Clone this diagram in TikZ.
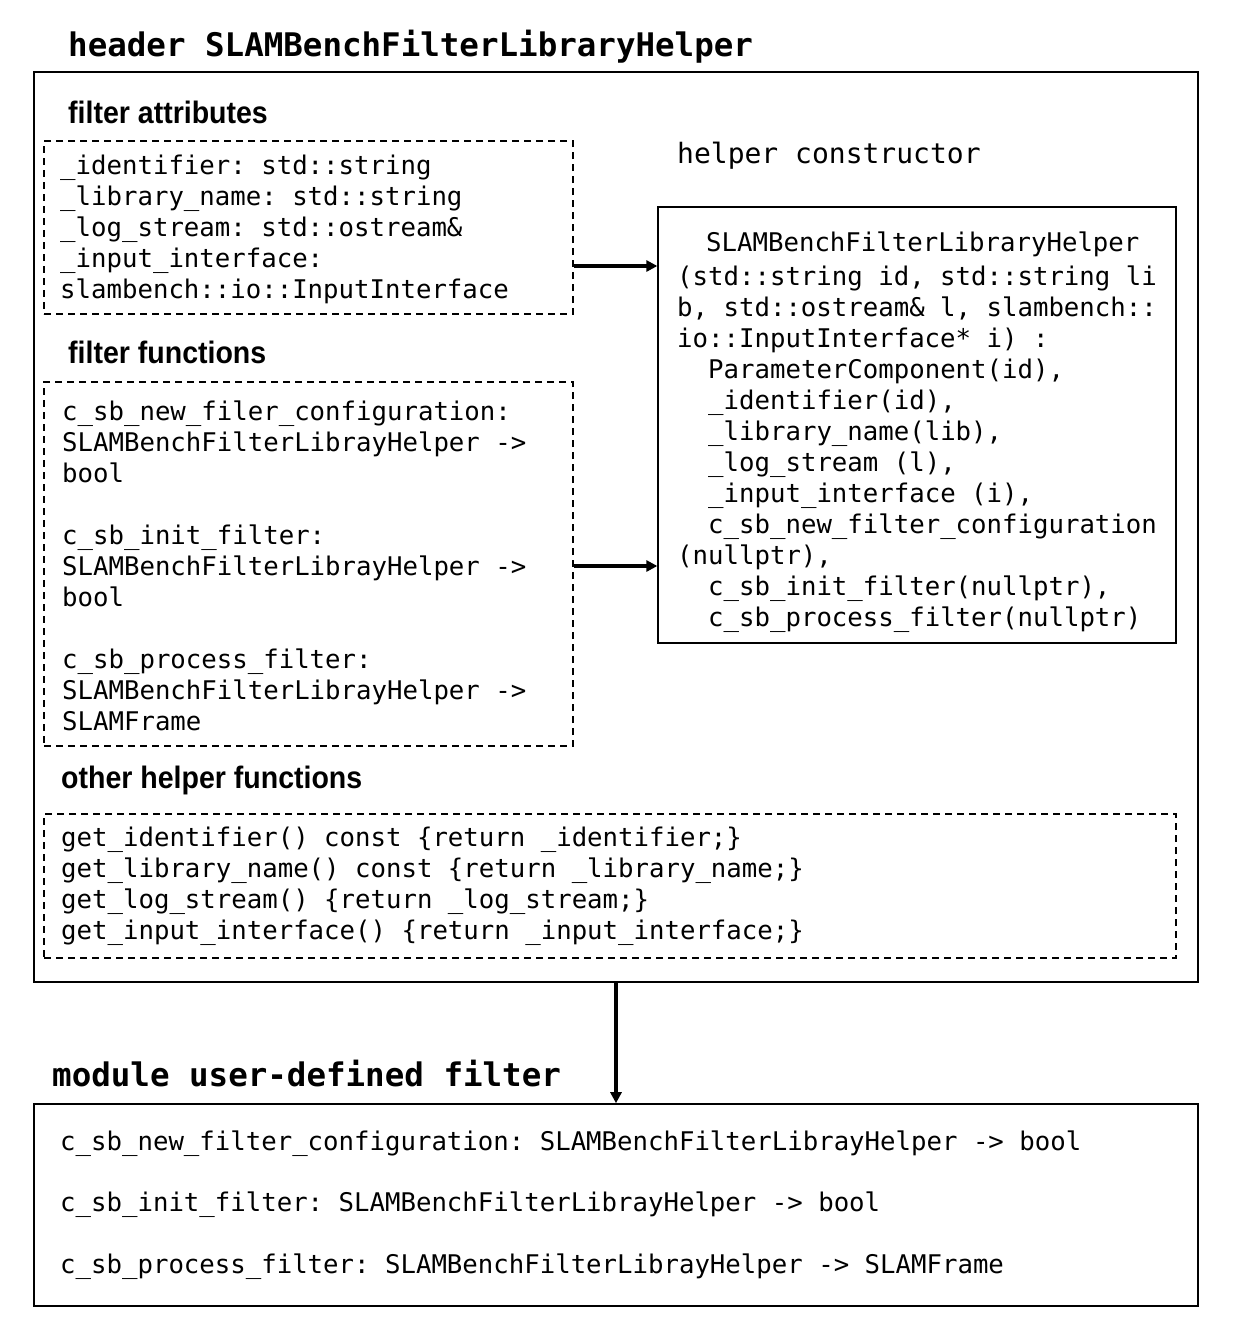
\documentclass[tikz,border=0pt]{standalone}
\usepackage{fontspec}
\newfontfamily\codefont{DejaVu Sans Mono}
\newfontfamily\labelfont{Liberation Sans}[FakeStretch=0.92]
\usetikzlibrary{arrows.meta}
\frenchspacing
\begin{document}
\begin{tikzpicture}[x=1pt,y=-1pt,
  solidbox/.style={draw,line width=1.6pt,rectangle,inner sep=0pt},
  dbox/.style={draw,line width=1.3pt,rectangle,inner sep=0pt,dash pattern=on 7pt off 5pt},
  code/.style={anchor=base west,inner sep=0pt,font=\codefont\fontsize{25.7}{31}\selectfont},
  ctitle/.style={anchor=base west,inner sep=0pt,font=\codefont\bfseries\fontsize{32.5}{40}\selectfont},
  stitle/.style={anchor=base west,inner sep=0pt,font=\labelfont\bfseries\fontsize{31}{36}\selectfont},
  arr/.style={line width=3.5pt,-{Triangle[length=11pt,width=11pt]}}]
\useasboundingbox (0,0) rectangle (1234,1342);

% boxes
\node[solidbox,minimum width=1164pt,minimum height=910pt] (outer) at (616,527) {};
\node[dbox,minimum width=529pt,minimum height=173pt] (attrbox) at (308.5,227.5) {};
\node[solidbox,line width=1.3pt,minimum width=518pt,minimum height=436pt] (ctorbox) at (917,425) {};
\node[dbox,minimum width=529pt,minimum height=364pt] (funcbox) at (308.5,564) {};
\node[dbox,minimum width=1132pt,minimum height=144pt] (otherbox) at (610,886) {};
\node[solidbox,minimum width=1164pt,minimum height=202pt] (modbox) at (616,1205) {};

% titles
\node[ctitle] (htitle) at (68,56) {header SLAMBenchFilterLibraryHelper};
\node[ctitle] (mtitle) at (52,1086) {module user-defined filter};
\node[stitle] (attrlbl) at (68,123) {filter attributes};
\node[stitle] (funclbl) at (68,363) {filter functions};
\node[stitle] (otherlbl) at (61,788) {other helper functions};
\node[code,font=\codefont\fontsize{28}{34}\selectfont] (ctorlbl) at (677,163) {helper constructor};

% filter attributes
\foreach \t [count=\i] in {%
  {\_identifier: std::string},
  {\_library\_name: std::string},
  {\_log\_stream: std::ostream\&},
  {\_input\_interface:},
  {slambench::io::InputInterface}}
  \node[code] (attr\i) at (60,{174+31*(\i-1)}) {\t};

% filter functions
\node[code] (f1) at (62,420) {c\_sb\_new\_filer\_configuration:};
\node[code] (f2) at (62,451) {SLAMBenchFilterLibrayHelper ->};
\node[code] (f3) at (62,482) {bool};
\node[code] (f4) at (62,544) {c\_sb\_init\_filter:};
\node[code] (f5) at (62,575) {SLAMBenchFilterLibrayHelper ->};
\node[code] (f6) at (62,606) {bool};
\node[code] (f7) at (62,668) {c\_sb\_process\_filter:};
\node[code] (f8) at (62,699) {SLAMBenchFilterLibrayHelper ->};
\node[code] (f9) at (62,730) {SLAMFrame};

% constructor
\node[code] (c0) at (706,251) {SLAMBenchFilterLibraryHelper};
\node[code] (c1) at (677,285) {(std::string id, std::string li};
\node[code] (c2) at (677,316) {b, std::ostream\& l, slambench::};
\node[code] (c3) at (677,347) {io::InputInterface* i) :};
\node[code] (c4) at (708,378) {ParameterComponent(id),};
\node[code] (c5) at (708,409) {\_identifier(id),};
\node[code] (c6) at (708,440) {\_library\_name(lib),};
\node[code] (c7) at (708,471) {\_log\_stream (l),};
\node[code] (c8) at (708,502) {\_input\_interface (i),};
\node[code] (c9) at (708,533) {c\_sb\_new\_filter\_configuration};
\node[code] (c10) at (677,564) {(nullptr),};
\node[code] (c11) at (708,595) {c\_sb\_init\_filter(nullptr),};
\node[code] (c12) at (708,626) {c\_sb\_process\_filter(nullptr)};

% other helper functions
\node[code] (o1) at (61,846) {get\_identifier() const \{return \_identifier;\}};
\node[code] (o2) at (61,877) {get\_library\_name() const \{return \_library\_name;\}};
\node[code] (o3) at (61,908) {get\_log\_stream() \{return \_log\_stream;\}};
\node[code] (o4) at (61,939) {get\_input\_interface() \{return \_input\_interface;\}};

% module
\node[code] (m1) at (60,1150) {c\_sb\_new\_filter\_configuration: SLAMBenchFilterLibrayHelper -> bool};
\node[code] (m2) at (60,1211) {c\_sb\_init\_filter: SLAMBenchFilterLibrayHelper -> bool};
\node[code] (m3) at (60,1273) {c\_sb\_process\_filter: SLAMBenchFilterLibrayHelper -> SLAMFrame};

% connectors
\coordinate (a1y) at (600,266);
\draw[arr] (attrbox.east |- a1y) -- (ctorbox.west |- a1y);
\coordinate (a2y) at (600,566);
\draw[arr] (funcbox.east |- a2y) -- (ctorbox.west |- a2y);
\draw[arr] (outer.south) -- (modbox.north);
\end{tikzpicture}
\end{document}
